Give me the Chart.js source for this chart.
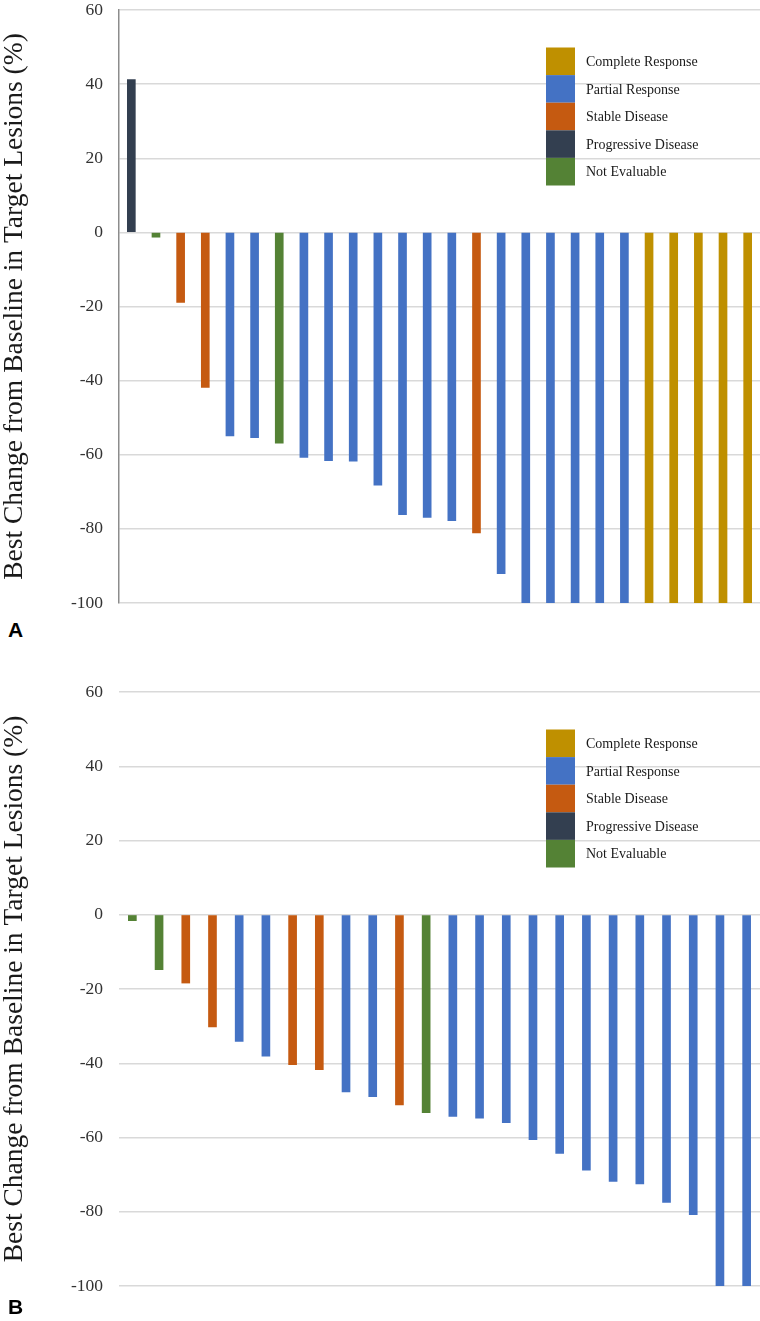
<!DOCTYPE html>
<html>
<head>
<meta charset="utf-8">
<script src="https://cdn.jsdelivr.net/npm/chart.js@4/dist/chart.umd.min.js"></script>
<style>
html,body{margin:0;padding:0;background:#fff;}
#wrap{position:relative;width:760px;height:1321px;overflow:hidden;}
canvas{position:absolute;left:0;}
.panel{position:absolute;left:8px;font:bold 21px "Liberation Sans",Arial,sans-serif;line-height:1;color:#000;}
</style>
</head>
<body>
<div id="wrap">
<canvas id="chartA" width="760" height="615" style="top:0px"></canvas>
<div class="panel" style="top:619px">A</div>
<canvas id="chartB" width="760" height="616" style="top:682px"></canvas>
<div class="panel" style="top:1296px">B</div>
</div>
<script>
// ---- Data ----
const responseCodes  = ['CR', 'PR', 'SD', 'PD', 'NE'];
const responseLabels = ['Complete Response', 'Partial Response', 'Stable Disease', 'Progressive Disease', 'Not Evaluable'];
const responseColors = ['#BF9000', '#4472C4', '#C55A11', '#333F50', '#548235'];

const patientsA = ['1','2','3','4','5','6','7','8','9','10','11','12','13','14','15','16','17','18','19','20','21','22','23','24','25','26'];
const changeA   = [41.2, -1.3, -18.9, -41.8, -54.9, -55.4, -56.9, -60.7, -61.6, -61.7, -68.2, -76.2, -76.9, -77.8, -81.1, -92.1, -100, -100, -100, -100, -100, -100, -100, -100, -100, -100];
const responseA = ['PD','NE','SD','SD','PR','PR','NE','PR','PR','PR','PR','PR','PR','PR','SD','PR','PR','PR','PR','PR','PR','CR','CR','CR','CR','CR'];

const patientsB = ['1','2','3','4','5','6','7','8','9','10','11','12','13','14','15','16','17','18','19','20','21','22','23','24'];
const changeB   = [-1.6, -14.8, -18.4, -30.2, -34.1, -38.1, -40.4, -41.7, -47.7, -49.0, -51.2, -53.3, -54.3, -54.8, -56.0, -60.6, -64.3, -68.8, -71.8, -72.5, -77.5, -80.8, -100, -100];
const responseB = ['NE','NE','SD','SD','PR','PR','SD','SD','PR','PR','SD','NE','PR','PR','PR','PR','PR','PR','PR','PR','PR','PR','PR','PR'];

const yMin = -100, yMax = 60, yStep = 20;
const yTitle = 'Best Change from Baseline in Target Lesions (%)';

// ---- Helpers ----
const SERIF = '"Liberation Serif", "Times New Roman", serif';
function colorsFor(resp) { return resp.map(r => responseColors[responseCodes.indexOf(r)]); }

const insideLegend = {
  id: 'insideLegend',
  afterDraw(chart, args, opts) {
    const ctx = chart.ctx, a = chart.chartArea;
    const x0 = a.left + opts.offsetX, y0 = a.top + opts.offsetY;
    ctx.save();
    ctx.font = '14px ' + SERIF;
    ctx.textBaseline = 'middle';
    ctx.textAlign = 'left';
    responseLabels.forEach((lab, i) => {
      const y = y0 + i * opts.itemHeight;
      ctx.fillStyle = responseColors[i];
      ctx.fillRect(x0, y, opts.boxWidth, opts.itemHeight);
      ctx.fillStyle = '#1a1a1a';
      ctx.fillText(lab, x0 + opts.boxWidth + opts.gap, y + opts.itemHeight / 2 + 1);
    });
    ctx.restore();
  }
};

function makeChart(id, labels, values, resp, showBorder) {
  return new Chart(document.getElementById(id), {
    type: 'bar',
    data: {
      labels: labels,
      datasets: [{
        data: values,
        backgroundColor: colorsFor(resp),
        borderWidth: 0,
        barThickness: 8
      }]
    },
    options: {
      responsive: false,
      animation: false,
      devicePixelRatio: 1,
      layout: { padding: { top: 10, bottom: 12, left: 0, right: 0 } },
      plugins: {
        legend: { display: false },
        tooltip: { enabled: false },
        insideLegend: { offsetX: 427, offsetY: 37.5, boxWidth: 29, itemHeight: 27.6, gap: 11 }
      },
      scales: {
        x: { display: false, offset: true },
        y: {
          min: yMin, max: yMax,
          ticks: { stepSize: yStep, padding: 16, color: '#333333', font: { family: SERIF, size: 17.5 } },
          grid: { color: '#d9d9d9', lineWidth: 1.5, drawTicks: false },
          border: { display: showBorder, color: '#8c8c8c', width: 1.5 },
          title: { display: true, text: yTitle, color: '#1a1a1a', padding: 0, font: { family: SERIF, size: 27.5, lineHeight: 1.1 } },
          afterFit(s) { s.width = 119; s.paddingTop = 0; s.paddingBottom = 0; }
        }
      }
    },
    plugins: [insideLegend]
  });
}

makeChart('chartA', patientsA, changeA, responseA, true);
makeChart('chartB', patientsB, changeB, responseB, false);
</script>
</body>
</html>
